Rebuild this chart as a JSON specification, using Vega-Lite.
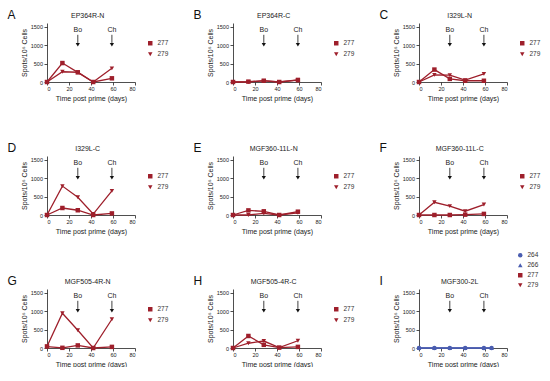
{
"$schema": "https://vega.github.io/schema/vega-lite/v6.json",
"background": "white",
"padding": {"left": 7, "top": 8, "right": 0, "bottom": 0},
"bounds": "flush",
"config": {
  "font": "Liberation Sans",
  "view": {"stroke": null},
  "axis": {"grid": false, "domainColor": "#222", "tickColor": "#222", "labelColor": "#222", "titleColor": "#222", "labelFontSize": 5.5, "titleFontSize": 7, "titleFontWeight": "normal", "tickSize": 3, "labelPadding": 1.5, "domainWidth": 0.8, "tickWidth": 0.8, "labelOverlap": false},
  "axisX": {"titlePadding": 2, "tickCount": 4},
  "axisY": {"titlePadding": 3, "tickCount": 3},
  "legend": {"orient": "right", "offset": -5, "padding": 17, "rowPadding": 4, "symbolSize": 20, "labelFontSize": 6.5, "labelColor": "#333", "symbolStrokeWidth": 0}
},
"datasets": {
  "pts": [
    {"panel":"A","series":"277","day":0,"v":0},{"panel":"A","series":"277","day":14,"v":514},{"panel":"A","series":"277","day":28,"v":261},{"panel":"A","series":"277","day":42,"v":0},{"panel":"A","series":"277","day":59,"v":100},
    {"panel":"A","series":"279","day":0,"v":0},{"panel":"A","series":"279","day":14,"v":278},{"panel":"A","series":"279","day":28,"v":265},{"panel":"A","series":"279","day":42,"v":0},{"panel":"A","series":"279","day":59,"v":371},
    {"panel":"B","series":"277","day":0,"v":0},{"panel":"B","series":"277","day":14,"v":10},{"panel":"B","series":"277","day":28,"v":35},{"panel":"B","series":"277","day":42,"v":0},{"panel":"B","series":"277","day":59,"v":50},
    {"panel":"B","series":"279","day":0,"v":0},{"panel":"B","series":"279","day":14,"v":0},{"panel":"B","series":"279","day":28,"v":30},{"panel":"B","series":"279","day":42,"v":0},{"panel":"B","series":"279","day":59,"v":60},
    {"panel":"C","series":"277","day":0,"v":0},{"panel":"C","series":"277","day":14,"v":337},{"panel":"C","series":"277","day":28,"v":84},{"panel":"C","series":"277","day":42,"v":34},{"panel":"C","series":"277","day":59,"v":34},
    {"panel":"C","series":"279","day":0,"v":0},{"panel":"C","series":"279","day":14,"v":194},{"panel":"C","series":"279","day":28,"v":185},{"panel":"C","series":"279","day":42,"v":50},{"panel":"C","series":"279","day":59,"v":219},
    {"panel":"D","series":"277","day":0,"v":0},{"panel":"D","series":"277","day":14,"v":190},{"panel":"D","series":"277","day":28,"v":129},{"panel":"D","series":"277","day":42,"v":0},{"panel":"D","series":"277","day":59,"v":43},
    {"panel":"D","series":"279","day":0,"v":0},{"panel":"D","series":"279","day":14,"v":784},{"panel":"D","series":"279","day":28,"v":483},{"panel":"D","series":"279","day":42,"v":26},{"panel":"D","series":"279","day":59,"v":655},
    {"panel":"E","series":"277","day":0,"v":0},{"panel":"E","series":"277","day":14,"v":125},{"panel":"E","series":"277","day":28,"v":100},{"panel":"E","series":"277","day":42,"v":0},{"panel":"E","series":"277","day":59,"v":90},
    {"panel":"E","series":"279","day":0,"v":0},{"panel":"E","series":"279","day":14,"v":0},{"panel":"E","series":"279","day":28,"v":45},{"panel":"E","series":"279","day":42,"v":0},{"panel":"E","series":"279","day":59,"v":60},
    {"panel":"F","series":"277","day":0,"v":0},{"panel":"F","series":"277","day":14,"v":0},{"panel":"F","series":"277","day":28,"v":0},{"panel":"F","series":"277","day":42,"v":10},{"panel":"F","series":"277","day":59,"v":30},
    {"panel":"F","series":"279","day":0,"v":0},{"panel":"F","series":"279","day":14,"v":345},{"panel":"F","series":"279","day":28,"v":241},{"panel":"F","series":"279","day":42,"v":103},{"panel":"F","series":"279","day":59,"v":284},
    {"panel":"G","series":"277","day":0,"v":40},{"panel":"G","series":"277","day":14,"v":5},{"panel":"G","series":"277","day":28,"v":70},{"panel":"G","series":"277","day":42,"v":0},{"panel":"G","series":"277","day":59,"v":30},
    {"panel":"G","series":"279","day":0,"v":40},{"panel":"G","series":"279","day":14,"v":943},{"panel":"G","series":"279","day":28,"v":480},{"panel":"G","series":"279","day":42,"v":0},{"panel":"G","series":"279","day":59,"v":780},
    {"panel":"H","series":"277","day":0,"v":0},{"panel":"H","series":"277","day":14,"v":326},{"panel":"H","series":"277","day":28,"v":86},{"panel":"H","series":"277","day":42,"v":10},{"panel":"H","series":"277","day":59,"v":30},
    {"panel":"H","series":"279","day":0,"v":0},{"panel":"H","series":"279","day":14,"v":129},{"panel":"H","series":"279","day":28,"v":189},{"panel":"H","series":"279","day":42,"v":10},{"panel":"H","series":"279","day":59,"v":197},
    {"panel":"I","series":"264","day":0,"v":0},{"panel":"I","series":"264","day":14,"v":0},{"panel":"I","series":"264","day":28,"v":0},{"panel":"I","series":"264","day":42,"v":0},{"panel":"I","series":"264","day":59,"v":0},{"panel":"I","series":"264","day":66,"v":0},
    {"panel":"I","series":"266","day":0,"v":0},{"panel":"I","series":"266","day":14,"v":0},{"panel":"I","series":"266","day":28,"v":0},{"panel":"I","series":"266","day":42,"v":0},{"panel":"I","series":"266","day":59,"v":0},{"panel":"I","series":"266","day":66,"v":0}
  ],
  "arrows": [{"day": 28, "label": "Bo"}, {"day": 59, "label": "Ch"}],
  "labels": [{"panel":"A","letter":"A","name":"EP364R-N"},{"panel":"B","letter":"B","name":"EP364R-C"},{"panel":"C","letter":"C","name":"I329L-N"},{"panel":"D","letter":"D","name":"I329L-C"},{"panel":"E","letter":"E","name":"MGF360-11L-N"},{"panel":"F","letter":"F","name":"MGF360-11L-C"},{"panel":"G","letter":"G","name":"MGF505-4R-N"},{"panel":"H","letter":"H","name":"MGF505-4R-C"},{"panel":"I","letter":"I","name":"MGF300-2L"}]
},
"columns": 3,
"spacing": {"row": 74, "column": 98},
"resolve": {"scale": {"color": "independent", "shape": "independent"}},
"concat": [
{"width": 88, "height": 59, "layer": [
 {"data": {"name": "pts"}, "transform": [{"filter": "datum.panel === 'A'"}], "mark": {"type": "line", "strokeWidth": 1.3}, "encoding": {"x": {"field": "day", "type": "quantitative", "scale": {"domain": [0, 80]}, "axis": {"title": "Time post prime (days)", "tickCount": 4, "labelOverlap": false}}, "y": {"field": "v", "type": "quantitative", "scale": {"domain": [0, 1500]}, "axis": {"title": "Spots/10⁶ Cells", "tickCount": 3, "format": "d", "labelOverlap": false}}, "color": {"field": "series", "type": "nominal", "scale": {"domain": ["277", "279"], "range": ["#9e1f2b", "#9e1f2b"]}, "legend": {"title": null}}}},
 {"data": {"name": "pts"}, "transform": [{"filter": "datum.panel === 'A'"}], "mark": {"type": "point", "filled": true, "opacity": 1, "size": 20}, "encoding": {"x": {"field": "day", "type": "quantitative"}, "y": {"field": "v", "type": "quantitative"}, "color": {"field": "series", "type": "nominal", "legend": {"title": null}}, "shape": {"field": "series", "type": "nominal", "scale": {"domain": ["277", "279"], "range": ["square", "triangle-down"]}, "legend": {"title": null}}}},
 {"data": {"name": "arrows"}, "mark": {"type": "text", "fontSize": 7, "baseline": "middle", "color": "#222"}, "encoding": {"x": {"field": "day", "type": "quantitative"}, "y": {"datum": 1400}, "text": {"field": "label"}}},
 {"data": {"name": "arrows"}, "mark": {"type": "rule", "color": "#111", "strokeWidth": 0.8}, "encoding": {"x": {"field": "day", "type": "quantitative"}, "y": {"datum": 1280}, "y2": {"datum": 1060}}},
 {"data": {"name": "arrows"}, "mark": {"type": "point", "shape": "triangle-down", "filled": true, "color": "#111", "size": 18, "opacity": 1}, "encoding": {"x": {"field": "day", "type": "quantitative"}, "y": {"datum": 1010}}},
 {"data": {"name": "labels"}, "transform": [{"filter": "datum.panel === 'A'"}], "mark": {"type": "text", "fontSize": 12, "align": "left", "baseline": "alphabetic", "color": "#111"}, "encoding": {"x": {"datum": -36}, "y": {"datum": 1710}, "text": {"field": "letter"}}},
 {"data": {"name": "labels"}, "transform": [{"filter": "datum.panel === 'A'"}], "mark": {"type": "text", "fontSize": 7, "align": "center", "baseline": "alphabetic", "color": "#222"}, "encoding": {"x": {"datum": 37}, "y": {"datum": 1745}, "text": {"field": "name"}}}
]},
{"width": 88, "height": 59, "layer": [
 {"data": {"name": "pts"}, "transform": [{"filter": "datum.panel === 'B'"}], "mark": {"type": "line", "strokeWidth": 1.3}, "encoding": {"x": {"field": "day", "type": "quantitative", "scale": {"domain": [0, 80]}, "axis": {"title": "Time post prime (days)", "tickCount": 4, "labelOverlap": false}}, "y": {"field": "v", "type": "quantitative", "scale": {"domain": [0, 1500]}, "axis": {"title": "Spots/10⁶ Cells", "tickCount": 3, "format": "d", "labelOverlap": false}}, "color": {"field": "series", "type": "nominal", "scale": {"domain": ["277", "279"], "range": ["#9e1f2b", "#9e1f2b"]}, "legend": {"title": null}}}},
 {"data": {"name": "pts"}, "transform": [{"filter": "datum.panel === 'B'"}], "mark": {"type": "point", "filled": true, "opacity": 1, "size": 20}, "encoding": {"x": {"field": "day", "type": "quantitative"}, "y": {"field": "v", "type": "quantitative"}, "color": {"field": "series", "type": "nominal", "legend": {"title": null}}, "shape": {"field": "series", "type": "nominal", "scale": {"domain": ["277", "279"], "range": ["square", "triangle-down"]}, "legend": {"title": null}}}},
 {"data": {"name": "arrows"}, "mark": {"type": "text", "fontSize": 7, "baseline": "middle", "color": "#222"}, "encoding": {"x": {"field": "day", "type": "quantitative"}, "y": {"datum": 1400}, "text": {"field": "label"}}},
 {"data": {"name": "arrows"}, "mark": {"type": "rule", "color": "#111", "strokeWidth": 0.8}, "encoding": {"x": {"field": "day", "type": "quantitative"}, "y": {"datum": 1280}, "y2": {"datum": 1060}}},
 {"data": {"name": "arrows"}, "mark": {"type": "point", "shape": "triangle-down", "filled": true, "color": "#111", "size": 18, "opacity": 1}, "encoding": {"x": {"field": "day", "type": "quantitative"}, "y": {"datum": 1010}}},
 {"data": {"name": "labels"}, "transform": [{"filter": "datum.panel === 'B'"}], "mark": {"type": "text", "fontSize": 12, "align": "left", "baseline": "alphabetic", "color": "#111"}, "encoding": {"x": {"datum": -36}, "y": {"datum": 1710}, "text": {"field": "letter"}}},
 {"data": {"name": "labels"}, "transform": [{"filter": "datum.panel === 'B'"}], "mark": {"type": "text", "fontSize": 7, "align": "center", "baseline": "alphabetic", "color": "#222"}, "encoding": {"x": {"datum": 37}, "y": {"datum": 1745}, "text": {"field": "name"}}}
]},
{"width": 88, "height": 59, "layer": [
 {"data": {"name": "pts"}, "transform": [{"filter": "datum.panel === 'C'"}], "mark": {"type": "line", "strokeWidth": 1.3}, "encoding": {"x": {"field": "day", "type": "quantitative", "scale": {"domain": [0, 80]}, "axis": {"title": "Time post prime (days)", "tickCount": 4, "labelOverlap": false}}, "y": {"field": "v", "type": "quantitative", "scale": {"domain": [0, 1500]}, "axis": {"title": "Spots/10⁶ Cells", "tickCount": 3, "format": "d", "labelOverlap": false}}, "color": {"field": "series", "type": "nominal", "scale": {"domain": ["277", "279"], "range": ["#9e1f2b", "#9e1f2b"]}, "legend": {"title": null}}}},
 {"data": {"name": "pts"}, "transform": [{"filter": "datum.panel === 'C'"}], "mark": {"type": "point", "filled": true, "opacity": 1, "size": 20}, "encoding": {"x": {"field": "day", "type": "quantitative"}, "y": {"field": "v", "type": "quantitative"}, "color": {"field": "series", "type": "nominal", "legend": {"title": null}}, "shape": {"field": "series", "type": "nominal", "scale": {"domain": ["277", "279"], "range": ["square", "triangle-down"]}, "legend": {"title": null}}}},
 {"data": {"name": "arrows"}, "mark": {"type": "text", "fontSize": 7, "baseline": "middle", "color": "#222"}, "encoding": {"x": {"field": "day", "type": "quantitative"}, "y": {"datum": 1400}, "text": {"field": "label"}}},
 {"data": {"name": "arrows"}, "mark": {"type": "rule", "color": "#111", "strokeWidth": 0.8}, "encoding": {"x": {"field": "day", "type": "quantitative"}, "y": {"datum": 1280}, "y2": {"datum": 1060}}},
 {"data": {"name": "arrows"}, "mark": {"type": "point", "shape": "triangle-down", "filled": true, "color": "#111", "size": 18, "opacity": 1}, "encoding": {"x": {"field": "day", "type": "quantitative"}, "y": {"datum": 1010}}},
 {"data": {"name": "labels"}, "transform": [{"filter": "datum.panel === 'C'"}], "mark": {"type": "text", "fontSize": 12, "align": "left", "baseline": "alphabetic", "color": "#111"}, "encoding": {"x": {"datum": -36}, "y": {"datum": 1710}, "text": {"field": "letter"}}},
 {"data": {"name": "labels"}, "transform": [{"filter": "datum.panel === 'C'"}], "mark": {"type": "text", "fontSize": 7, "align": "center", "baseline": "alphabetic", "color": "#222"}, "encoding": {"x": {"datum": 37}, "y": {"datum": 1745}, "text": {"field": "name"}}}
]},
{"width": 88, "height": 59, "layer": [
 {"data": {"name": "pts"}, "transform": [{"filter": "datum.panel === 'D'"}], "mark": {"type": "line", "strokeWidth": 1.3}, "encoding": {"x": {"field": "day", "type": "quantitative", "scale": {"domain": [0, 80]}, "axis": {"title": "Time post prime (days)", "tickCount": 4, "labelOverlap": false}}, "y": {"field": "v", "type": "quantitative", "scale": {"domain": [0, 1500]}, "axis": {"title": "Spots/10⁶ Cells", "tickCount": 3, "format": "d", "labelOverlap": false}}, "color": {"field": "series", "type": "nominal", "scale": {"domain": ["277", "279"], "range": ["#9e1f2b", "#9e1f2b"]}, "legend": {"title": null}}}},
 {"data": {"name": "pts"}, "transform": [{"filter": "datum.panel === 'D'"}], "mark": {"type": "point", "filled": true, "opacity": 1, "size": 20}, "encoding": {"x": {"field": "day", "type": "quantitative"}, "y": {"field": "v", "type": "quantitative"}, "color": {"field": "series", "type": "nominal", "legend": {"title": null}}, "shape": {"field": "series", "type": "nominal", "scale": {"domain": ["277", "279"], "range": ["square", "triangle-down"]}, "legend": {"title": null}}}},
 {"data": {"name": "arrows"}, "mark": {"type": "text", "fontSize": 7, "baseline": "middle", "color": "#222"}, "encoding": {"x": {"field": "day", "type": "quantitative"}, "y": {"datum": 1400}, "text": {"field": "label"}}},
 {"data": {"name": "arrows"}, "mark": {"type": "rule", "color": "#111", "strokeWidth": 0.8}, "encoding": {"x": {"field": "day", "type": "quantitative"}, "y": {"datum": 1280}, "y2": {"datum": 1060}}},
 {"data": {"name": "arrows"}, "mark": {"type": "point", "shape": "triangle-down", "filled": true, "color": "#111", "size": 18, "opacity": 1}, "encoding": {"x": {"field": "day", "type": "quantitative"}, "y": {"datum": 1010}}},
 {"data": {"name": "labels"}, "transform": [{"filter": "datum.panel === 'D'"}], "mark": {"type": "text", "fontSize": 12, "align": "left", "baseline": "alphabetic", "color": "#111"}, "encoding": {"x": {"datum": -36}, "y": {"datum": 1710}, "text": {"field": "letter"}}},
 {"data": {"name": "labels"}, "transform": [{"filter": "datum.panel === 'D'"}], "mark": {"type": "text", "fontSize": 7, "align": "center", "baseline": "alphabetic", "color": "#222"}, "encoding": {"x": {"datum": 37}, "y": {"datum": 1745}, "text": {"field": "name"}}}
]},
{"width": 88, "height": 59, "layer": [
 {"data": {"name": "pts"}, "transform": [{"filter": "datum.panel === 'E'"}], "mark": {"type": "line", "strokeWidth": 1.3}, "encoding": {"x": {"field": "day", "type": "quantitative", "scale": {"domain": [0, 80]}, "axis": {"title": "Time post prime (days)", "tickCount": 4, "labelOverlap": false}}, "y": {"field": "v", "type": "quantitative", "scale": {"domain": [0, 1500]}, "axis": {"title": "Spots/10⁶ Cells", "tickCount": 3, "format": "d", "labelOverlap": false}}, "color": {"field": "series", "type": "nominal", "scale": {"domain": ["277", "279"], "range": ["#9e1f2b", "#9e1f2b"]}, "legend": {"title": null}}}},
 {"data": {"name": "pts"}, "transform": [{"filter": "datum.panel === 'E'"}], "mark": {"type": "point", "filled": true, "opacity": 1, "size": 20}, "encoding": {"x": {"field": "day", "type": "quantitative"}, "y": {"field": "v", "type": "quantitative"}, "color": {"field": "series", "type": "nominal", "legend": {"title": null}}, "shape": {"field": "series", "type": "nominal", "scale": {"domain": ["277", "279"], "range": ["square", "triangle-down"]}, "legend": {"title": null}}}},
 {"data": {"name": "arrows"}, "mark": {"type": "text", "fontSize": 7, "baseline": "middle", "color": "#222"}, "encoding": {"x": {"field": "day", "type": "quantitative"}, "y": {"datum": 1400}, "text": {"field": "label"}}},
 {"data": {"name": "arrows"}, "mark": {"type": "rule", "color": "#111", "strokeWidth": 0.8}, "encoding": {"x": {"field": "day", "type": "quantitative"}, "y": {"datum": 1280}, "y2": {"datum": 1060}}},
 {"data": {"name": "arrows"}, "mark": {"type": "point", "shape": "triangle-down", "filled": true, "color": "#111", "size": 18, "opacity": 1}, "encoding": {"x": {"field": "day", "type": "quantitative"}, "y": {"datum": 1010}}},
 {"data": {"name": "labels"}, "transform": [{"filter": "datum.panel === 'E'"}], "mark": {"type": "text", "fontSize": 12, "align": "left", "baseline": "alphabetic", "color": "#111"}, "encoding": {"x": {"datum": -36}, "y": {"datum": 1710}, "text": {"field": "letter"}}},
 {"data": {"name": "labels"}, "transform": [{"filter": "datum.panel === 'E'"}], "mark": {"type": "text", "fontSize": 7, "align": "center", "baseline": "alphabetic", "color": "#222"}, "encoding": {"x": {"datum": 37}, "y": {"datum": 1745}, "text": {"field": "name"}}}
]},
{"width": 88, "height": 59, "layer": [
 {"data": {"name": "pts"}, "transform": [{"filter": "datum.panel === 'F'"}], "mark": {"type": "line", "strokeWidth": 1.3}, "encoding": {"x": {"field": "day", "type": "quantitative", "scale": {"domain": [0, 80]}, "axis": {"title": "Time post prime (days)", "tickCount": 4, "labelOverlap": false}}, "y": {"field": "v", "type": "quantitative", "scale": {"domain": [0, 1500]}, "axis": {"title": "Spots/10⁶ Cells", "tickCount": 3, "format": "d", "labelOverlap": false}}, "color": {"field": "series", "type": "nominal", "scale": {"domain": ["277", "279"], "range": ["#9e1f2b", "#9e1f2b"]}, "legend": {"title": null}}}},
 {"data": {"name": "pts"}, "transform": [{"filter": "datum.panel === 'F'"}], "mark": {"type": "point", "filled": true, "opacity": 1, "size": 20}, "encoding": {"x": {"field": "day", "type": "quantitative"}, "y": {"field": "v", "type": "quantitative"}, "color": {"field": "series", "type": "nominal", "legend": {"title": null}}, "shape": {"field": "series", "type": "nominal", "scale": {"domain": ["277", "279"], "range": ["square", "triangle-down"]}, "legend": {"title": null}}}},
 {"data": {"name": "arrows"}, "mark": {"type": "text", "fontSize": 7, "baseline": "middle", "color": "#222"}, "encoding": {"x": {"field": "day", "type": "quantitative"}, "y": {"datum": 1400}, "text": {"field": "label"}}},
 {"data": {"name": "arrows"}, "mark": {"type": "rule", "color": "#111", "strokeWidth": 0.8}, "encoding": {"x": {"field": "day", "type": "quantitative"}, "y": {"datum": 1280}, "y2": {"datum": 1060}}},
 {"data": {"name": "arrows"}, "mark": {"type": "point", "shape": "triangle-down", "filled": true, "color": "#111", "size": 18, "opacity": 1}, "encoding": {"x": {"field": "day", "type": "quantitative"}, "y": {"datum": 1010}}},
 {"data": {"name": "labels"}, "transform": [{"filter": "datum.panel === 'F'"}], "mark": {"type": "text", "fontSize": 12, "align": "left", "baseline": "alphabetic", "color": "#111"}, "encoding": {"x": {"datum": -36}, "y": {"datum": 1710}, "text": {"field": "letter"}}},
 {"data": {"name": "labels"}, "transform": [{"filter": "datum.panel === 'F'"}], "mark": {"type": "text", "fontSize": 7, "align": "center", "baseline": "alphabetic", "color": "#222"}, "encoding": {"x": {"datum": 37}, "y": {"datum": 1745}, "text": {"field": "name"}}}
]},
{"width": 88, "height": 59, "layer": [
 {"data": {"name": "pts"}, "transform": [{"filter": "datum.panel === 'G'"}], "mark": {"type": "line", "strokeWidth": 1.3}, "encoding": {"x": {"field": "day", "type": "quantitative", "scale": {"domain": [0, 80]}, "axis": {"title": "Time post prime (days)", "tickCount": 4, "labelOverlap": false}}, "y": {"field": "v", "type": "quantitative", "scale": {"domain": [0, 1500]}, "axis": {"title": "Spots/10⁶ Cells", "tickCount": 3, "format": "d", "labelOverlap": false}}, "color": {"field": "series", "type": "nominal", "scale": {"domain": ["277", "279"], "range": ["#9e1f2b", "#9e1f2b"]}, "legend": {"title": null}}}},
 {"data": {"name": "pts"}, "transform": [{"filter": "datum.panel === 'G'"}], "mark": {"type": "point", "filled": true, "opacity": 1, "size": 20}, "encoding": {"x": {"field": "day", "type": "quantitative"}, "y": {"field": "v", "type": "quantitative"}, "color": {"field": "series", "type": "nominal", "legend": {"title": null}}, "shape": {"field": "series", "type": "nominal", "scale": {"domain": ["277", "279"], "range": ["square", "triangle-down"]}, "legend": {"title": null}}}},
 {"data": {"name": "arrows"}, "mark": {"type": "text", "fontSize": 7, "baseline": "middle", "color": "#222"}, "encoding": {"x": {"field": "day", "type": "quantitative"}, "y": {"datum": 1400}, "text": {"field": "label"}}},
 {"data": {"name": "arrows"}, "mark": {"type": "rule", "color": "#111", "strokeWidth": 0.8}, "encoding": {"x": {"field": "day", "type": "quantitative"}, "y": {"datum": 1280}, "y2": {"datum": 1060}}},
 {"data": {"name": "arrows"}, "mark": {"type": "point", "shape": "triangle-down", "filled": true, "color": "#111", "size": 18, "opacity": 1}, "encoding": {"x": {"field": "day", "type": "quantitative"}, "y": {"datum": 1010}}},
 {"data": {"name": "labels"}, "transform": [{"filter": "datum.panel === 'G'"}], "mark": {"type": "text", "fontSize": 12, "align": "left", "baseline": "alphabetic", "color": "#111"}, "encoding": {"x": {"datum": -36}, "y": {"datum": 1710}, "text": {"field": "letter"}}},
 {"data": {"name": "labels"}, "transform": [{"filter": "datum.panel === 'G'"}], "mark": {"type": "text", "fontSize": 7, "align": "center", "baseline": "alphabetic", "color": "#222"}, "encoding": {"x": {"datum": 37}, "y": {"datum": 1745}, "text": {"field": "name"}}}
]},
{"width": 88, "height": 59, "layer": [
 {"data": {"name": "pts"}, "transform": [{"filter": "datum.panel === 'H'"}], "mark": {"type": "line", "strokeWidth": 1.3}, "encoding": {"x": {"field": "day", "type": "quantitative", "scale": {"domain": [0, 80]}, "axis": {"title": "Time post prime (days)", "tickCount": 4, "labelOverlap": false}}, "y": {"field": "v", "type": "quantitative", "scale": {"domain": [0, 1500]}, "axis": {"title": "Spots/10⁶ Cells", "tickCount": 3, "format": "d", "labelOverlap": false}}, "color": {"field": "series", "type": "nominal", "scale": {"domain": ["277", "279"], "range": ["#9e1f2b", "#9e1f2b"]}, "legend": {"title": null}}}},
 {"data": {"name": "pts"}, "transform": [{"filter": "datum.panel === 'H'"}], "mark": {"type": "point", "filled": true, "opacity": 1, "size": 20}, "encoding": {"x": {"field": "day", "type": "quantitative"}, "y": {"field": "v", "type": "quantitative"}, "color": {"field": "series", "type": "nominal", "legend": {"title": null}}, "shape": {"field": "series", "type": "nominal", "scale": {"domain": ["277", "279"], "range": ["square", "triangle-down"]}, "legend": {"title": null}}}},
 {"data": {"name": "arrows"}, "mark": {"type": "text", "fontSize": 7, "baseline": "middle", "color": "#222"}, "encoding": {"x": {"field": "day", "type": "quantitative"}, "y": {"datum": 1400}, "text": {"field": "label"}}},
 {"data": {"name": "arrows"}, "mark": {"type": "rule", "color": "#111", "strokeWidth": 0.8}, "encoding": {"x": {"field": "day", "type": "quantitative"}, "y": {"datum": 1280}, "y2": {"datum": 1060}}},
 {"data": {"name": "arrows"}, "mark": {"type": "point", "shape": "triangle-down", "filled": true, "color": "#111", "size": 18, "opacity": 1}, "encoding": {"x": {"field": "day", "type": "quantitative"}, "y": {"datum": 1010}}},
 {"data": {"name": "labels"}, "transform": [{"filter": "datum.panel === 'H'"}], "mark": {"type": "text", "fontSize": 12, "align": "left", "baseline": "alphabetic", "color": "#111"}, "encoding": {"x": {"datum": -36}, "y": {"datum": 1710}, "text": {"field": "letter"}}},
 {"data": {"name": "labels"}, "transform": [{"filter": "datum.panel === 'H'"}], "mark": {"type": "text", "fontSize": 7, "align": "center", "baseline": "alphabetic", "color": "#222"}, "encoding": {"x": {"datum": 37}, "y": {"datum": 1745}, "text": {"field": "name"}}}
]},
{"width": 88, "height": 59, "layer": [
 {"data": {"name": "pts"}, "transform": [{"filter": "datum.panel === 'I'"}], "mark": {"type": "line", "strokeWidth": 1.3}, "encoding": {"x": {"field": "day", "type": "quantitative", "scale": {"domain": [0, 80]}, "axis": {"title": "Time post prime (days)", "tickCount": 4, "labelOverlap": false}}, "y": {"field": "v", "type": "quantitative", "scale": {"domain": [0, 1500]}, "axis": {"title": "Spots/10⁶ Cells", "tickCount": 3, "format": "d", "labelOverlap": false}}, "color": {"field": "series", "type": "nominal", "scale": {"domain": ["264", "266", "277", "279"], "range": ["#4a5db0", "#4a5db0", "#9e1f2b", "#9e1f2b"]}, "legend": {"title": null, "orient": "none", "legendX": 98, "legendY": -37, "padding": 0, "rowPadding": 3}}}},
 {"data": {"name": "pts"}, "transform": [{"filter": "datum.panel === 'I'"}], "mark": {"type": "point", "filled": true, "opacity": 1, "size": 20}, "encoding": {"x": {"field": "day", "type": "quantitative"}, "y": {"field": "v", "type": "quantitative"}, "color": {"field": "series", "type": "nominal", "legend": {"title": null, "orient": "none", "legendX": 98, "legendY": -37, "padding": 0, "rowPadding": 3}}, "shape": {"field": "series", "type": "nominal", "scale": {"domain": ["264", "266", "277", "279"], "range": ["circle", "triangle-up", "square", "triangle-down"]}, "legend": {"title": null, "orient": "none", "legendX": 98, "legendY": -37, "padding": 0, "rowPadding": 3}}}},
 {"data": {"name": "arrows"}, "mark": {"type": "text", "fontSize": 7, "baseline": "middle", "color": "#222"}, "encoding": {"x": {"field": "day", "type": "quantitative"}, "y": {"datum": 1400}, "text": {"field": "label"}}},
 {"data": {"name": "arrows"}, "mark": {"type": "rule", "color": "#111", "strokeWidth": 0.8}, "encoding": {"x": {"field": "day", "type": "quantitative"}, "y": {"datum": 1280}, "y2": {"datum": 1060}}},
 {"data": {"name": "arrows"}, "mark": {"type": "point", "shape": "triangle-down", "filled": true, "color": "#111", "size": 18, "opacity": 1}, "encoding": {"x": {"field": "day", "type": "quantitative"}, "y": {"datum": 1010}}},
 {"data": {"name": "labels"}, "transform": [{"filter": "datum.panel === 'I'"}], "mark": {"type": "text", "fontSize": 12, "align": "left", "baseline": "alphabetic", "color": "#111"}, "encoding": {"x": {"datum": -36}, "y": {"datum": 1710}, "text": {"field": "letter"}}},
 {"data": {"name": "labels"}, "transform": [{"filter": "datum.panel === 'I'"}], "mark": {"type": "text", "fontSize": 7, "align": "center", "baseline": "alphabetic", "color": "#222"}, "encoding": {"x": {"datum": 37}, "y": {"datum": 1745}, "text": {"field": "name"}}}
]}
]
}
